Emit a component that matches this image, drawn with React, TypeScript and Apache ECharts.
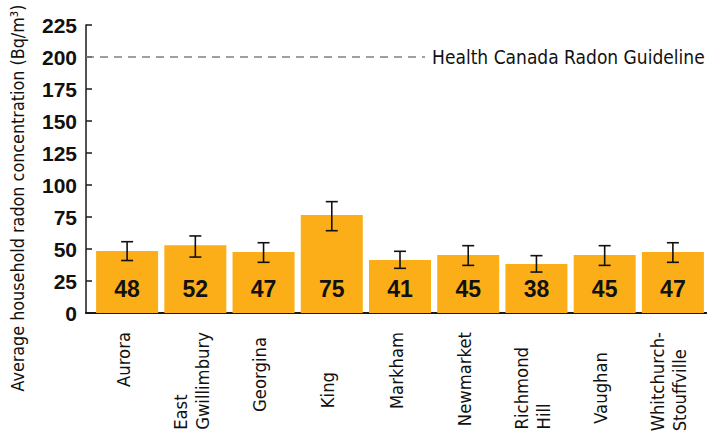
import React, { useEffect, useRef } from "react";
import * as echarts from "echarts";

const categories = [
  "Aurora",
  "East\nGwillimbury",
  "Georgina",
  "King",
  "Markham",
  "Newmarket",
  "Richmond\nHill",
  "Vaughan",
  "Whitchurch-\nStouffville",
];
const means = [48.4, 53, 47.6, 76.5, 41.4, 45.3, 38.3, 45.3, 47.6];
const meanLabels = ["48", "52", "47", "75", "41", "45", "38", "45", "47"];
const lows = [41, 43.7, 39.6, 64.3, 34.9, 37.2, 32, 37.2, 39.6];
const highs = [55.7, 60.2, 54.9, 87, 48.2, 52.6, 44.8, 52.6, 54.9];
const labelShift = [0, 0, 5, 40, 0, 0, 15, 20, 0];
const guideline = 200;
const guidelineText = "Health Canada Radon Guideline";
const yTitle = "Average household radon concentration (Bq/m³)";

const NARROW = '"Liberation Sans Narrow", "DejaVu Sans Condensed", "Liberation Sans", sans-serif';
const BOLD = '"Liberation Sans", Arial, sans-serif';

export default function App() {
  const ref = useRef<HTMLDivElement>(null);
  useEffect(() => {
    if (!ref.current) return;
    const chart = echarts.init(ref.current, null, { renderer: "svg" });
    const option: any = {
      animation: false,
      backgroundColor: "#ffffff",
      grid: [
        { left: 86, right: 0, top: 25, bottom: 119, outerBoundsMode: "none", containLabel: false },
        { left: 93, right: 0, top: 25, bottom: 119, outerBoundsMode: "none", containLabel: false },
      ],
      xAxis: [
        {
          type: "value",
          gridIndex: 0,
          min: 0,
          max: 1,
          axisLine: { show: true, lineStyle: { color: "#1a1a1a", width: 2 } },
          axisTick: { show: false },
          axisLabel: { show: false },
          splitLine: { show: false },
        },
        {
          type: "category",
          gridIndex: 1,
          data: categories.map((c, i) => ({
            value: c,
            textStyle: { padding: [0, labelShift[i], 8, 0] },
          })),
          axisLine: { show: false },
          axisTick: { show: false },
          axisLabel: {
            rotate: 90,
            margin: 19,
            fontFamily: NARROW,
            fontSize: 18.3,
            lineHeight: 22,
            color: "#111",
            interval: 0,
            formatter: (v: string) =>
              v
                .split("\n")
                .map((s) => `{l|${s}}`)
                .join("\n"),
            rich: {
              l: {
                align: "left",
                fontFamily: NARROW,
                fontSize: 18.3,
                lineHeight: 22,
                color: "#111",
              },
            },
          },
        },
      ],
      yAxis: [
        {
          type: "value",
          gridIndex: 0,
          min: 0,
          max: 225,
          interval: 25,
          axisLine: { show: true, lineStyle: { color: "#1a1a1a", width: 1.5 } },
          axisTick: { show: true, inside: true, length: 6, lineStyle: { color: "#1a1a1a", width: 1.5 } },
          axisLabel: {
            margin: 9,
            fontFamily: BOLD,
            fontWeight: "bold",
            fontSize: 21,
            color: "#111",
          },
          splitLine: { show: false },
        },
        {
          type: "value",
          gridIndex: 1,
          min: 0,
          max: 225,
          interval: 25,
          show: false,
          splitLine: { show: false },
        },
      ],
      graphic: [
        {
          type: "text",
          x: 17,
          y: 198,
          rotation: Math.PI / 2,
          style: {
            text: yTitle,
            fontFamily: NARROW,
            fontSize: 17.8,
            fill: "#111",
            align: "center",
            verticalAlign: "middle",
          },
        },
      ],
      series: [
        {
          type: "line",
          xAxisIndex: 0,
          yAxisIndex: 0,
          data: [
            [0, guideline],
            [0.546, guideline],
          ],
          symbol: "none",
          silent: true,
          lineStyle: { color: "#808080", width: 1.5, type: [8, 6] },
          endLabel: {
            show: true,
            formatter: guidelineText,
            distance: 7,
            fontFamily: NARROW,
            fontSize: 19,
            color: "#111",
          },
        },
        {
          type: "bar",
          xAxisIndex: 1,
          yAxisIndex: 1,
          data: means,
          barWidth: 62,
          itemStyle: { color: "#FBAE17" },
          label: {
            show: true,
            position: "insideBottom",
            distance: 13,
            formatter: (p: any) => meanLabels[p.dataIndex],
            fontFamily: BOLD,
            fontWeight: "bold",
            fontSize: 23,
            color: "#111",
          },
        },
        {
          type: "custom",
          xAxisIndex: 1,
          yAxisIndex: 1,
          data: categories.map((_, i) => [i, lows[i], highs[i]]),
          renderItem: (params: any, api: any) => {
            const x = api.coord([api.value(0), 0])[0];
            const lo = api.coord([api.value(0), api.value(1)])[1];
            const hi = api.coord([api.value(0), api.value(2)])[1];
            const half = 6;
            const style = { stroke: "#111", lineWidth: 1.6 };
            return {
              type: "group",
              children: [
                { type: "line", shape: { x1: x, y1: lo, x2: x, y2: hi }, style },
                { type: "line", shape: { x1: x - half, y1: hi, x2: x + half, y2: hi }, style },
                { type: "line", shape: { x1: x - half, y1: lo, x2: x + half, y2: lo }, style },
              ],
            };
          },
          z: 10,
        },
      ],
    };
    chart.setOption(option);
    return () => chart.dispose();
  }, []);
  return <div ref={ref} style={{ width: 707, height: 432, position: "absolute", left: 0, top: 0 }} />;
}
